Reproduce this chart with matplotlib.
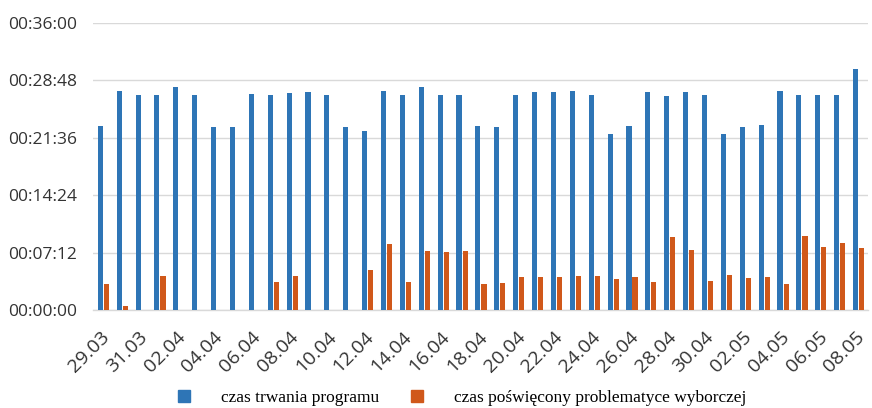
import matplotlib
matplotlib.use("Agg")
import matplotlib.pyplot as plt
from matplotlib.ticker import FuncFormatter, MultipleLocator
from matplotlib.patches import Patch
import numpy as np

# Daily broadcasts, 29.03 - 08.05 (durations as mm:ss)
dates = [
    "29.03", "30.03", "31.03", "01.04", "02.04", "03.04", "04.04", "05.04",
    "06.04", "07.04", "08.04", "09.04", "10.04", "11.04", "12.04", "13.04",
    "14.04", "15.04", "16.04", "17.04", "18.04", "19.04", "20.04", "21.04",
    "22.04", "23.04", "24.04", "25.04", "26.04", "27.04", "28.04", "29.04",
    "30.04", "01.05", "02.05", "03.05", "04.05", "05.05", "06.05", "07.05",
    "08.05",
]

program_length = [
    "23:06", "27:24", "26:54", "26:54", "28:00", "27:00", "22:54", "23:00",
    "27:06", "27:00", "27:12", "27:18", "27:00", "23:00", "22:24", "27:24",
    "27:00", "28:00", "27:00", "27:00", "23:06", "22:54", "27:00", "27:18",
    "27:18", "27:24", "27:00", "22:06", "23:06", "27:18", "26:48", "27:18",
    "26:54", "22:06", "23:00", "23:12", "27:30", "26:54", "27:00", "26:54",
    "30:12",
]

election_topics = [
    "03:18", "00:30", "00:00", "04:16", "00:00", "00:00", "00:00", "00:00",
    "00:00", "03:30", "04:16", "00:00", "00:00", "00:00", "04:59", "08:17",
    "03:30", "07:24", "07:18", "07:24", "03:16", "03:23", "04:08", "04:08",
    "04:08", "04:16", "04:16", "03:54", "04:08", "03:30", "09:07", "07:32",
    "03:38", "04:23", "04:00", "04:08", "03:16", "09:15", "07:54", "08:24",
    "07:47",
]

tick_labels = dates[::2]

label_blue = "czas trwania programu"
label_orange = "czas poświęcony problematyce wyborczej"


def to_seconds(s):
    m, sec = s.split(":")
    return int(m) * 60 + int(sec)


blue_vals = np.array([to_seconds(v) for v in program_length])
orange_vals = np.array([to_seconds(v) for v in election_topics])

BLUE = "#2E75B6"
ORANGE = "#D0581A"
GRID = "#D9D9D9"

fig = plt.figure(figsize=(8.72, 4.08), dpi=100)
ax = fig.add_axes([0.107, 0.240, 0.888, 0.704])

x = np.arange(len(dates))
w = 0.27
off = 0.16
ax.bar(x - off, blue_vals, width=w, color=BLUE, zorder=3)
ax.bar(x + off, orange_vals, width=w, color=ORANGE, zorder=3)

ax.set_xlim(-0.53, len(dates) - 0.52)
ax.set_ylim(0, 2160)
ax.yaxis.set_major_locator(MultipleLocator(432))


def hms(v, pos):
    v = int(round(v))
    return f"{v // 3600:02d}:{(v % 3600) // 60:02d}:{v % 60:02d}"


ax.yaxis.set_major_formatter(FuncFormatter(hms))
ax.grid(axis="y", color=GRID, linewidth=1.0, zorder=0)
ax.set_axisbelow(True)

for s in ["top", "right", "left"]:
    ax.spines[s].set_visible(False)
ax.spines["bottom"].set_color(GRID)
ax.spines["bottom"].set_linewidth(1.0)

ax.tick_params(axis="both", length=0)
ax.tick_params(axis="y", pad=12, labelsize=12.5, labelcolor="#333333")
ax.set_xticks(x[::2] - 0.15)
ax.set_xticklabels(tick_labels, rotation=45, ha="right", rotation_mode="anchor",
                   fontsize=14, color="#333333")
ax.tick_params(axis="x", pad=13)
for lab in ax.get_yticklabels() + ax.get_xticklabels():
    lab.set_family("Open Sans")

handles = [Patch(color=BLUE, label=label_blue), Patch(color=ORANGE, label=label_orange)]
fig.legend(handles=handles, loc="center", bbox_to_anchor=(0.53, 0.024), ncol=2,
           frameon=False, prop={"family": "Liberation Serif", "size": 12.5},
           handlelength=0.7, handleheight=0.7, handletextpad=1.8, columnspacing=1.8,
           borderpad=0)

fig.savefig("out.png", dpi=100, facecolor="white")
